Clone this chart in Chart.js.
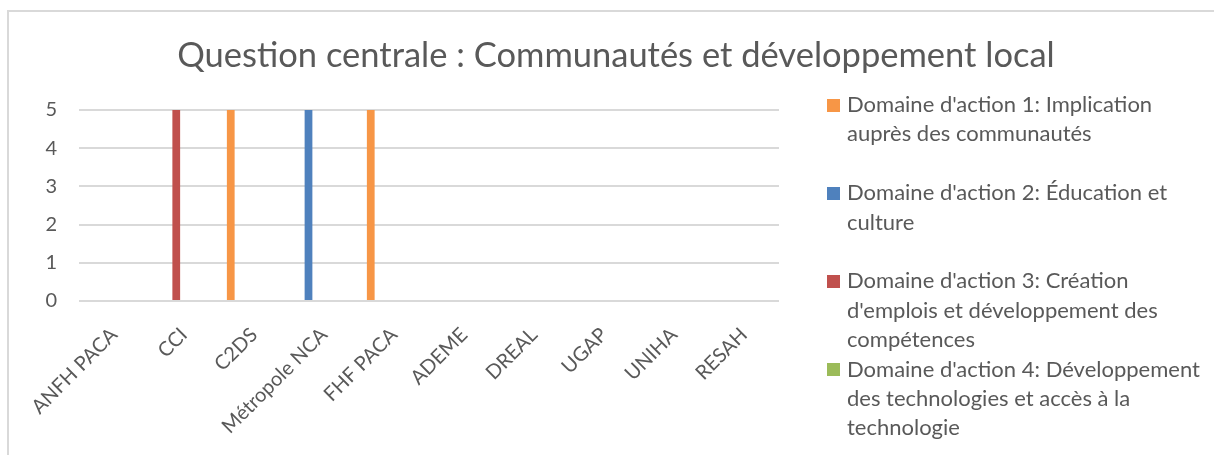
<!DOCTYPE html>
<html lang="fr">
<head>
<meta charset="utf-8">
<title>Question centrale : Communautés et développement local</title>
<script src="https://cdn.jsdelivr.net/npm/chart.js@4.4.1/dist/chart.umd.min.js"></script>
<style>
  html, body { margin: 0; padding: 0; background: #fff; }
  #wrap { width: 1214px; height: 455px; }
</style>
</head>
<body>
<div id="wrap"><canvas id="chart" width="1214" height="455"></canvas></div>
<script>
// ── Data ──
const chartTitle = 'Question centrale : Communautés et développement local';

const categories = ['ANFH PACA', 'CCI', 'C2DS', 'Métropole NCA', 'FHF PACA',
                    'ADEME', 'DREAL', 'UGAP', 'UNIHA', 'RESAH'];

const implication   = [0, 0, 5, 0, 5, 0, 0, 0, 0, 0];
const education     = [0, 0, 0, 5, 0, 0, 0, 0, 0, 0];
const emplois       = [0, 5, 0, 0, 0, 0, 0, 0, 0, 0];
const technologies  = [0, 0, 0, 0, 0, 0, 0, 0, 0, 0];

// legend text, already wrapped the way the original shows it
const seriesNames = [
  ["Domaine d'action 1: Implication", 'auprès des communautés'],
  ["Domaine d'action 2: Éducation et", 'culture'],
  ["Domaine d'action 3: Création", "d'emplois et développement des", 'compétences'],
  ["Domaine d'action 4: Développement", 'des technologies et accès à la', 'technologie'],
];
const seriesColors = ['#F79646', '#4F81BD', '#C0504D', '#9BBB59'];

// the source chart keeps 3 empty series slots after the 4 named ones
const emptySlots = 3;

const yTicks = [0, 1, 2, 3, 4, 5];

// ── Styling ──
const textCol = '#595959';
const gridCol = '#d9d9d9';
const font    = 'Lato, "Open Sans", sans-serif';

const seriesValues = [implication, education, emplois, technologies];
const datasets = seriesValues.map((vals, i) => ({
  label: seriesNames[i].join(' '),
  data: vals,
  backgroundColor: seriesColors[i],
  borderWidth: 0,
}));
for (let k = 0; k < emptySlots; k++) {
  datasets.push({ label: '', data: categories.map(() => null), backgroundColor: 'transparent' });
}

// ── Frame, title and legend drawn by hand (legend needs Excel-like wrapping) ──
const decorPlugin = {
  id: 'decor',
  beforeDraw(chart) {
    const ctx = chart.ctx;
    ctx.save();
    ctx.fillStyle = '#fff';
    ctx.fillRect(0, 0, chart.width, chart.height);
    ctx.strokeStyle = gridCol;
    ctx.lineWidth = 2;
    ctx.strokeRect(8, 11, chart.width + 20, chart.height + 20);
    ctx.restore();
  },
  afterDraw(chart) {
    const ctx = chart.ctx;
    ctx.save();

    // title
    ctx.fillStyle = textCol;
    ctx.font = `34.5px ${font}`;
    ctx.textAlign = 'center';
    ctx.textBaseline = 'alphabetic';
    ctx.fillText(chartTitle, 616, 67);

    // legend
    const boxX = 827, textX = 847, box = 13;
    const lineH = 29.4;
    const blankAfter = [1, 1, 0, 0];
    let y = 105;
    ctx.font = `22px ${font}`;
    ctx.textAlign = 'left';
    ctx.textBaseline = 'middle';
    seriesNames.forEach((lines, i) => {
      ctx.fillStyle = seriesColors[i];
      ctx.fillRect(boxX, Math.round(y - box / 2), box, box);
      ctx.fillStyle = textCol;
      lines.forEach((ln, j) => ctx.fillText(ln, textX, y + j * lineH));
      y += (lines.length + blankAfter[i]) * lineH;
    });
    ctx.restore();
  }
};

new Chart(document.getElementById('chart'), {
  type: 'bar',
  data: { labels: categories, datasets },
  plugins: [decorPlugin],
  options: {
    responsive: false,
    animation: false,
    layout: { padding: { top: 110, right: 435, bottom: 0, left: 0 } },
    datasets: { bar: { categoryPercentage: 0.775, barPercentage: 1.0 } },
    plugins: {
      legend: { display: false },
      title: { display: false },
      tooltip: { enabled: false },
    },
    scales: {
      x: {
        grid: { display: false },
        border: { display: false },
        ticks: {
          color: textCol,
          font: { size: 20, family: font },
          minRotation: 45,
          maxRotation: 45,
          autoSkip: false,
          padding: 14,
        },
        afterFit(scale) { scale.height = 154; },
      },
      y: {
        min: 0,
        max: 5,
        afterBuildTicks(scale) { scale.ticks = yTicks.map(v => ({ value: v })); },
        grid: { color: gridCol, lineWidth: 2, drawTicks: false },
        border: { display: false },
        ticks: {
          color: textCol,
          font: { size: 20, family: font },
          padding: 22,
        },
        afterFit(scale) { scale.width = 79; },
      },
    },
  },
});
</script>
</body>
</html>
